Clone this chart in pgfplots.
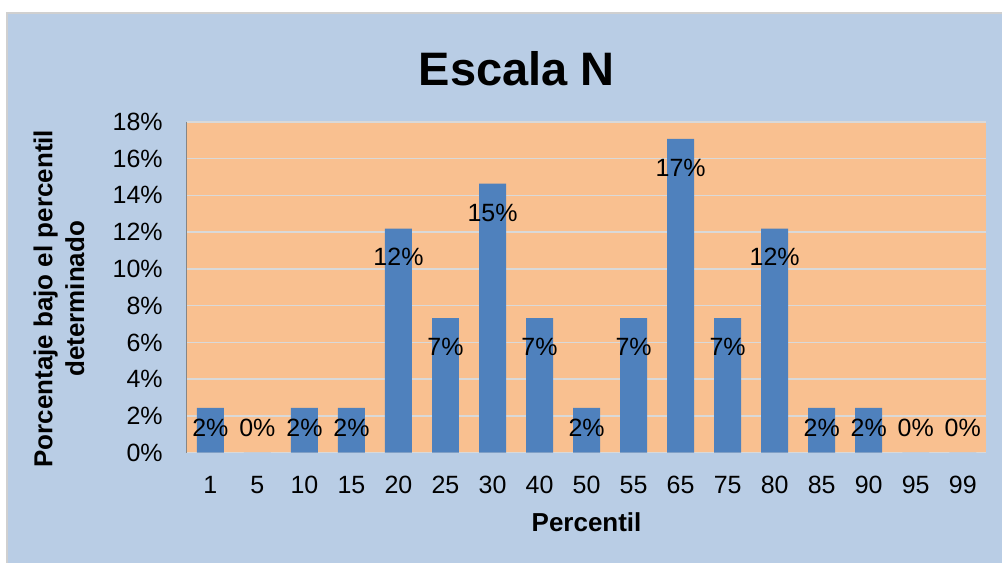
\documentclass[border=0pt]{standalone}
\usepackage{fontspec}
\setmainfont{Liberation Sans}
\usepackage{pgfplots}
\pgfplotsset{compat=1.18}
\definecolor{chartbg}{HTML}{B9CDE5}
\definecolor{plotbg}{HTML}{F9C090}
\definecolor{barblue}{HTML}{4F81BD}
\definecolor{gridgray}{HTML}{D9D9D9}
\definecolor{framegray}{HTML}{D0D0D0}
\definecolor{leftaxis}{HTML}{868686}

\begin{document}
\begin{tikzpicture}[x=1bp,y=1bp]
\fill[white] (0,0) rectangle (1003,563);
\fill[chartbg] (7,0) rectangle (1003,550);
\draw[framegray, line width=1.5bp] (7,0) -- (7,550) -- (1003,550);

\begin{axis}[
    at={(187bp,110bp)}, anchor=south west,
    scale only axis,
    width=800bp, height=331bp,
    xmin=-0.5, xmax=16.5,
    ymin=0, ymax=18,
    axis background/.style={fill=plotbg},
    axis x line=bottom, axis y line=left,
    x axis line style={gridgray, line width=1.5bp, -},
    y axis line style={leftaxis, line width=1bp, -},
    xtick={0,...,16},
    xticklabels={1,5,10,15,20,25,30,40,50,55,65,75,80,85,90,95,99},
    ytick={0,2,4,6,8,10,12,14,16,18},
    yticklabels={0\%,2\%,4\%,6\%,8\%,10\%,12\%,14\%,16\%,18\%},
    major tick length=0,
    ymajorgrids,
    grid style={gridgray, line width=1.5bp},
    ticklabel style={font=\fontsize{25bp}{28bp}\selectfont, inner sep=0pt},
    yticklabel style={anchor=east, xshift=-24bp},
    xticklabel style={anchor=north, yshift=-23bp},
]
% share of cases per percentile (n = 41)
\addplot[ybar, bar width=27bp, fill=barblue, draw=none] coordinates {
    (0,2.439) (1,0) (2,2.439) (3,2.439) (4,12.195) (5,7.317)
    (6,14.634) (7,7.317) (8,2.439) (9,7.317) (10,17.073) (11,7.317)
    (12,12.195) (13,2.439) (14,2.439) (15,0) (16,0)
};

% data labels, inside end of each bar
\addplot[only marks, mark=none, point meta=explicit symbolic,
    nodes near coords,
    nodes near coords style={anchor=center, inner sep=0pt,
        font=\fontsize{25bp}{28bp}\selectfont}] coordinates {
    (0,1.36)[2\%] (1,1.36)[0\%] (2,1.36)[2\%] (3,1.36)[2\%]
    (4,10.63)[12\%] (5,5.75)[7\%] (6,13.06)[15\%] (7,5.75)[7\%]
    (8,1.36)[2\%] (9,5.75)[7\%] (10,15.5)[17\%] (11,5.75)[7\%]
    (12,10.63)[12\%] (13,1.36)[2\%] (14,1.36)[2\%] (15,1.36)[0\%]
    (16,1.36)[0\%]
};
\end{axis}

\node[font=\fontsize{47bp}{52bp}\selectfont\bfseries] at (517,494.5) {Escala N};
\node[font=\fontsize{26bp}{30bp}\selectfont\bfseries] at (587,40) {Percentil};
\node[font=\fontsize{26bp}{32bp}\selectfont\bfseries, rotate=90, align=center]
    at (59,264) {Porcentaje bajo el percentil\\determinado};
\end{tikzpicture}
\end{document}
